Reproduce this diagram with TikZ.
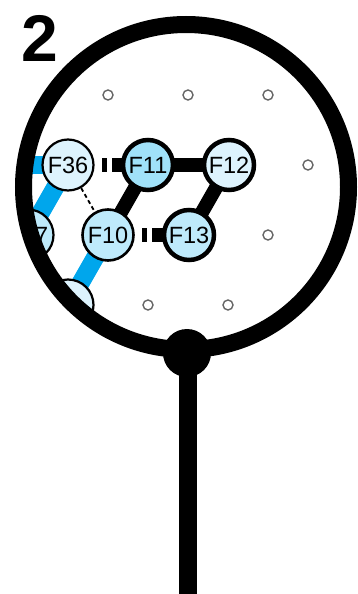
\documentclass[tikz,border=0pt]{standalone}
\usepackage{fontspec}
\setmainfont{Liberation Sans}
\usetikzlibrary{backgrounds}
\definecolor{paleblue}{HTML}{DDF3FD}
\definecolor{midblue}{HTML}{BEEAFB}
\definecolor{deepblue}{HTML}{A0E1F9}
\definecolor{edgeblue}{HTML}{00A6EC}
\definecolor{dotgray}{HTML}{666666}
\begin{document}
\begin{tikzpicture}[x=1pt,y=-1pt,
  fnode/.style={circle, draw=black, minimum size=51pt, inner sep=0pt,
    font=\fontsize{23.5}{23.5}\selectfont},
  thinring/.style={fnode, line width=2.2pt},
  thickring/.style={fnode, line width=4.5pt, minimum size=50pt},
  dotnode/.style={circle, draw=dotgray, fill=white, line width=1.4pt,
    minimum size=10pt, inner sep=0pt},
  blueedge/.style={draw=edgeblue, line width=18pt},
  blackedge/.style={draw=black, line width=14pt},
  dashedge/.style={draw=black, line width=14pt,
    dash pattern=on 0pt off 34pt on 5pt off 5pt on 12pt off 24pt},
  thindash/.style={draw=black, line width=1.8pt, dash pattern=on 4pt off 3pt},
  lens/.style={draw=black, line width=17pt}]
\useasboundingbox (0,0) rectangle (358,594);
% handle
\fill (187,353) circle (24);
\fill (178.5,345) rectangle (196.5,594);
\begin{scope}
  \clip (186,187) circle (160);
  \coordinate (F35) at (-12,165);
  \node[dotnode] (d1) at (108,95) {};
  \node[dotnode] (d2) at (188,95) {};
  \node[dotnode] (d3) at (268,95) {};
  \node[dotnode] (d4) at (308,165) {};
  \node[dotnode] (d5) at (268,235) {};
  \node[dotnode] (d6) at (148,305) {};
  \node[dotnode] (d7) at (228,305) {};
  \node[thinring, fill=paleblue] (F36) at (68,165) {F36};
  \node[thickring, fill=deepblue] (F11) at (148,165) {F11};
  \node[thickring, fill=paleblue] (F12) at (229,165) {F12};
  \node[thinring, fill=midblue, line width=2.6pt] (F10) at (108,235) {F10};
  \node[thickring, fill=midblue] (F13) at (189,235) {F13};
  \node[thinring, fill=midblue] (F37) at (28,235) {F37};
  \node[thinring, fill=paleblue] (F9) at (68,305) {F9};
  \begin{pgfonlayer}{background}
    \begin{scope}
      \clip (186,187) circle (160);
      \path[blueedge] (F35) -- (F36.center);
      \path[blueedge] (F36.center) -- (F37.center);
      \path[blueedge] (F10.center) -- (F9.center);
      \path[blackedge] (F11.center) -- (F12.center);
      \path[blackedge] (F11.center) -- (F10.center);
      \path[blackedge] (F12.center) -- (F13.center);
      \path[dashedge] (F36.center) -- (F11.center);
      \path[dashedge] (F10.center) -- (F13.center);
      \path[thindash] (F36) -- (F10);
    \end{scope}
  \end{pgfonlayer}
\end{scope}
\path[lens] (186,187) circle (162.5);
\node[anchor=base west, inner sep=0pt, font=\bfseries\fontsize{66}{66}\selectfont] (lbl) at (21,62) {2};
\end{tikzpicture}
\end{document}
